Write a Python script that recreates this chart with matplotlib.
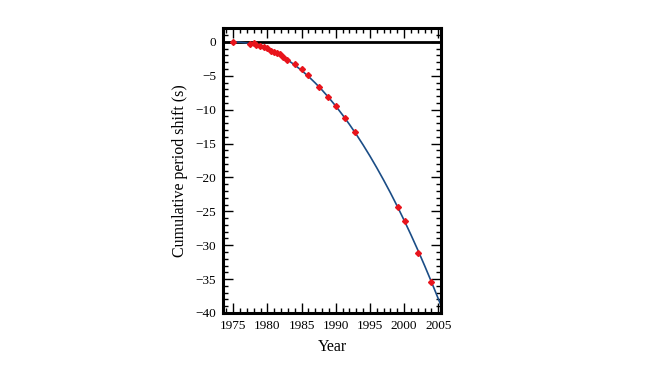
import matplotlib
matplotlib.use("Agg")
import matplotlib.pyplot as plt
from matplotlib.ticker import MultipleLocator

obs_year = [1975.0, 1977.5, 1978.1, 1978.4, 1978.9, 1979.5, 1979.9, 1980.5, 1981.0,
            1981.4, 1981.8, 1982.3, 1982.9, 1984.0, 1985.0, 1986.0, 1987.6, 1988.9,
            1990.1, 1991.4, 1992.8, 1999.1, 2000.1, 2002.1, 2003.9]
obs_shift = [0.05, -0.3, -0.2, -0.5, -0.55, -0.8, -0.95, -1.3, -1.45,
             -1.6, -1.8, -2.2, -2.6, -3.3, -4.0, -4.9, -6.6, -8.1,
             -9.4, -11.2, -13.3, -24.4, -26.4, -31.1, -35.4]

# GR prediction curve
curve_year = [1975, 1976, 1977, 1978, 1979, 1980, 1981, 1982, 1983, 1984, 1985,
              1986, 1987, 1988, 1989, 1990, 1991, 1992, 1993, 1994, 1995, 1996,
              1997, 1998, 1999, 2000, 2001, 2002, 2003, 2004, 2005, 2005.8]
curve_shift = [0.0, -0.04, -0.17, -0.38, -0.67, -1.05, -1.52, -2.06, -2.69, -3.41,
               -4.21, -5.09, -6.06, -7.11, -8.25, -9.47, -10.78, -12.17, -13.64,
               -15.20, -16.84, -18.57, -20.38, -22.27, -24.25, -26.31, -28.46,
               -30.69, -33.01, -35.41, -37.89, -39.9]

plt.rcParams['font.family'] = ['Liberation Serif', 'DejaVu Serif']

fig = plt.figure(figsize=(6.65, 3.68), dpi=100)
ax = fig.add_axes([223/665, 1-313/368, (441-223)/665, (313-28)/368])

ax.axhline(0, color='black', lw=2.0, zorder=1)
ax.plot(curve_year, curve_shift, color='#1b4d86', lw=1.2, zorder=2)
ax.plot(obs_year, obs_shift, linestyle='none', marker='D', ms=3.0,
        color='#e8141c', mec='#e8141c', zorder=3)

ax.set_xlim(1973.5, 2005.4)
ax.set_ylim(-40, 2.05)
ax.xaxis.set_major_locator(MultipleLocator(5))
ax.xaxis.set_minor_locator(MultipleLocator(1))
ax.yaxis.set_major_locator(MultipleLocator(5))
ax.yaxis.set_minor_locator(MultipleLocator(1))
ax.tick_params(which='both', direction='in', top=True, right=True,
               labelsize=9.5, width=1.0, color='black', pad=5)
ax.tick_params(which='major', length=7)
ax.tick_params(which='minor', length=3.5)
for s in ax.spines.values():
    s.set_linewidth(2.2)

ax.set_xlabel('Year', fontsize=11.5, labelpad=5)
ax.set_ylabel('Cumulative period shift (s)', fontsize=11.5, labelpad=5)

fig.savefig('out.png', dpi=100)
